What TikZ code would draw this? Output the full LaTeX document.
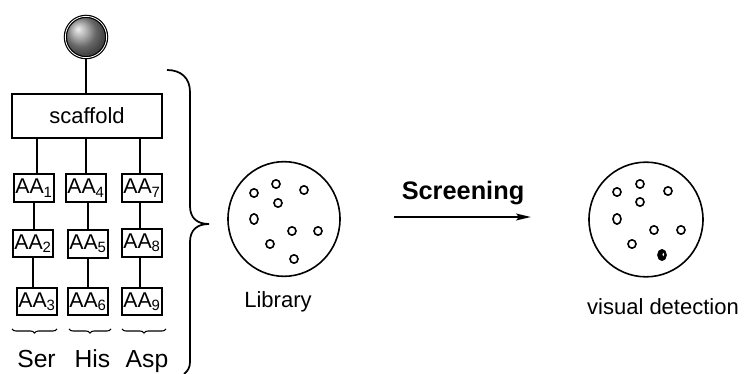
\documentclass[tikz,border=0pt]{standalone}
\usepackage{fontspec}
\setmainfont{Liberation Sans}
\usetikzlibrary{arrows.meta,decorations.pathreplacing,calc,shapes.geometric}
\newcommand\fsz[1]{\fontsize{#1}{#1}\selectfont}
\begin{document}
\begin{tikzpicture}[x=0.75pt,y=-0.75pt, line width=1.3pt,
  aabox/.style={draw, minimum width=30pt, minimum height=20.5pt, inner sep=0pt, font=\fsz{16}},
  dot/.style={draw, ellipse, minimum width=6pt, minimum height=6.3pt, inner sep=0pt, line width=1.2pt},
  tall/.style={minimum height=7.8pt},
  plate/.style={draw, ellipse, minimum width=84pt, minimum height=86pt, inner sep=0pt, line width=1.2pt},
  lbl/.style={font=\fsz{16.5}, anchor=base, inner sep=0pt},
  aa/.style={font=\fsz{18.5}, anchor=base, inner sep=0pt},
  smallbrace/.style={line width=0.8pt, decorate, decoration={brace, mirror, amplitude=3pt}}
]
\useasboundingbox (0,0) rectangle (744,374);

% sphere
\node[circle, minimum size=31pt, inner sep=0pt, ball color=gray!85, draw, double=white, double distance=0.6pt, line width=0.9pt] (ball) at (86,37) {};
% scaffold
\node[draw, minimum width=112.5pt, minimum height=33pt, font=\fsz{16.5}] (sc) at (87,116) {scaffold};

% AA boxes
\node[aabox] (a1) at (34,188) {AA\textsubscript{1}};
\node[aabox] (a4) at (86,188) {AA\textsubscript{4}};
\node[aabox] (a7) at (142,188) {AA\textsubscript{7}};
\node[aabox] (a2) at (33,243.5) {AA\textsubscript{2}};
\node[aabox] (a5) at (88,244) {AA\textsubscript{5}};
\node[aabox] (a8) at (142,243) {AA\textsubscript{8}};
\node[aabox] (a3) at (37,301.5) {AA\textsubscript{3}};
\node[aabox] (a6) at (88,301.5) {AA\textsubscript{6}};
\node[aabox] (a9) at (142,301.5) {AA\textsubscript{9}};

% connectors
\draw (ball.south) -- (ball.south |- sc.north);
\draw ([xshift=2.25pt]a1.north) -- ([xshift=2.25pt]a1.north |- sc.south);
\draw (a4.north) -- (a4.north |- sc.south);
\draw ([xshift=-1.5pt]a7.north) -- ([xshift=-1.5pt]a7.north |- sc.south);
\draw (a1.south) -- (a1.south |- a2.north);
\draw (a5.north) -- (a5.north |- a4.south);
\draw ([xshift=-1.5pt]a8.north) -- ([xshift=-1.5pt]a8.north |- a7.south);
\draw (a2.south) -- (a2.south |- a3.north);
\draw (a6.north) -- (a6.north |- a5.south);
\draw ([xshift=-1.5pt]a9.north) -- ([xshift=-1.5pt]a9.north |- a8.south);

% small braces
\draw[smallbrace] (12,329) -- (57,329);
\draw[smallbrace] (69,329) -- (111,329);
\draw[smallbrace] (122,329) -- (166,329);
\node[aa] (ser) at (36.5,368) {Ser};
\node[aa] (his) at (92.5,368) {His};
\node[aa] (asp) at (147,368) {Asp};

% big brace
\draw[line width=1.3pt] (167,70) .. controls (181,70) and (190,78) .. (190,92)
  -- (190,206) .. controls (190,218) and (197,224) .. (209,224)
  .. controls (197,224) and (190,230) .. (190,242)
  -- (190,362) .. controls (190,367) and (188,371) .. (184,374);

% library
\node[plate] (lib) at (284,219) {};
\node[dot] (l1) at ($(lib)+(-30,-26)$) {};
\node[dot] (l2) at ($(lib)+(-8,-35)$) {};
\node[dot] (l3) at ($(lib)+(20,-29)$) {};
\node[dot] (l4) at ($(lib)+(-6,-16)$) {};
\node[dot, tall] (l5) at ($(lib)+(-30,0)$) {};
\node[dot] (l6) at ($(lib)+(8,12)$) {};
\node[dot] (l7) at ($(lib)+(34,12)$) {};
\node[dot] (l8) at ($(lib)+(-14,25)$) {};
\node[dot] (l9) at ($(lib)+(10,40)$) {};
\node[lbl] (libt) at (278,308) {Library};

% screening arrow
\coordinate (as) at (394,217);
\coordinate (ae) at (531,217);
\draw[line width=1.8pt, -{Stealth[length=11pt,width=5pt,inset=2pt]}] (as) -- (ae);
\node[font=\fsz{19}\bfseries, anchor=base, inner sep=0pt] (scr) at (463,200) {Screening};

% detection plate
\node[plate, minimum width=85.5pt] (det) at (646,219.5) {};
\node[dot] (r1) at ($(det)+(-29,-27.5)$) {};
\node[dot] (r2) at ($(det)+(-6,-35.5)$) {};
\node[dot] (r3) at ($(det)+(22,-28.5)$) {};
\node[dot] (r4) at ($(det)+(-6,-17.5)$) {};
\node[dot, tall] (r5) at ($(det)+(-29,-0.5)$) {};
\node[dot] (r6) at ($(det)+(8,10.5)$) {};
\node[dot] (r7) at ($(det)+(35,10.5)$) {};
\node[dot] (r8) at ($(det)+(-14,24.5)$) {};
\node[dot, tall, fill=black] (r9) at ($(det)+(16,35.5)$) {};
\fill[white] ($(r9)+(1.3,-0.5)$) ellipse (0.9 and 1.8);
\node[lbl] (vdt) at (663,315) {visual detection};
\end{tikzpicture}
\end{document}
